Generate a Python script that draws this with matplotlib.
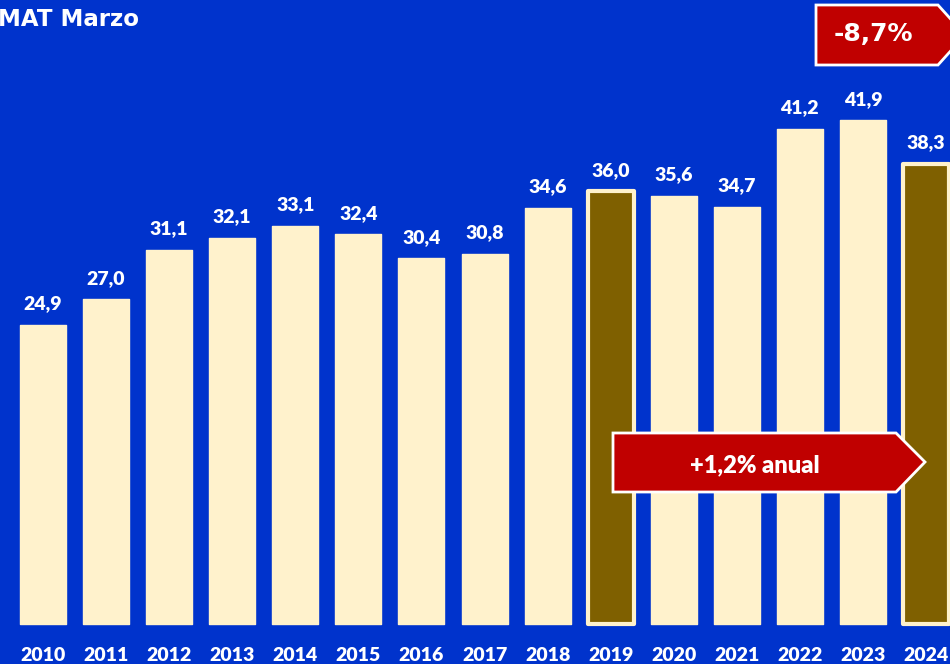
import numpy as np
import matplotlib
matplotlib.use('Agg')
import matplotlib.pyplot as plt
from matplotlib.patches import Polygon

years = ['2010', '2011', '2012', '2013', '2014', '2015', '2016', '2017',
         '2018', '2019', '2020', '2021', '2022', '2023', '2024']
values = [24.9, 27.0, 31.1, 32.1, 33.1, 32.4, 30.4, 30.8,
          34.6, 36.0, 35.6, 34.7, 41.2, 41.9, 38.3]
highlight = ['2019', '2024']

bg = '#0033CC'
cream = '#FFF2CC'
olive = '#7F6000'
red = '#C00000'

fig = plt.figure(figsize=(9.5, 6.64), dpi=100, facecolor=bg)
ax = fig.add_axes([0, 0, 1, 1])
ax.set_facecolor(bg)

x = np.arange(len(years))
fills = [olive if y in highlight else cream for y in years]
lws = [3 if y in highlight else 1 for y in years]
bars = ax.bar(x, values, width=0.73, color=fills, edgecolor=cream,
              linewidth=lws, joinstyle='round', zorder=2)

for xi, v in zip(x, values):
    ax.text(xi, v + 1.75, f'{v:.1f}'.replace('.', ','), ha='center', va='center',
            color='white', fontsize=14, fontweight='heavy', family='Lato')

for xi, y in zip(x, years):
    ax.text(xi, -2.6, y, ha='center', va='center', color='white',
            fontsize=14, fontweight='heavy', family='Lato')

ax.set_xlim(-0.682, 14.38)
ax.set_ylim(-3.33, 51.9)
ax.axis('off')

# title (touching the left edge like the original)
fig.text(-0.002, 1 - 20 / 664, 'MAT Marzo', color='white', fontsize=16.5,
         fontweight='bold', family='DejaVu Sans', va='center', ha='left')

W, H = 950, 664


def px(pts):
    return [(a / W, 1 - b / H) for a, b in pts]


# -8,7% callout (arrow pointing right, tip off-canvas)
tag = Polygon(px([(816, 5), (938, 5), (965, 35), (938, 65), (816, 65)]),
              closed=True, facecolor=red, edgecolor='white', linewidth=2,
              transform=fig.transFigure, zorder=5)
fig.add_artist(tag)
fig.text(873 / W, 1 - 34 / H, '-8,7%', color='white', fontsize=18,
         fontweight='bold', family='DejaVu Sans', ha='center', va='center', zorder=6)

# +1,2% anual arrow
arrow = Polygon(px([(613, 433), (896, 433), (925, 462), (896, 492), (613, 492)]),
                closed=True, facecolor=red, edgecolor='white', linewidth=2,
                transform=fig.transFigure, zorder=5)
fig.add_artist(arrow)
fig.text(755 / W, 1 - 465 / H, '+1,2% anual', color='white', fontsize=17,
         fontweight='heavy', family='Lato', ha='center', va='center', zorder=6)

fig.savefig('out.png', dpi=100, facecolor=bg)
